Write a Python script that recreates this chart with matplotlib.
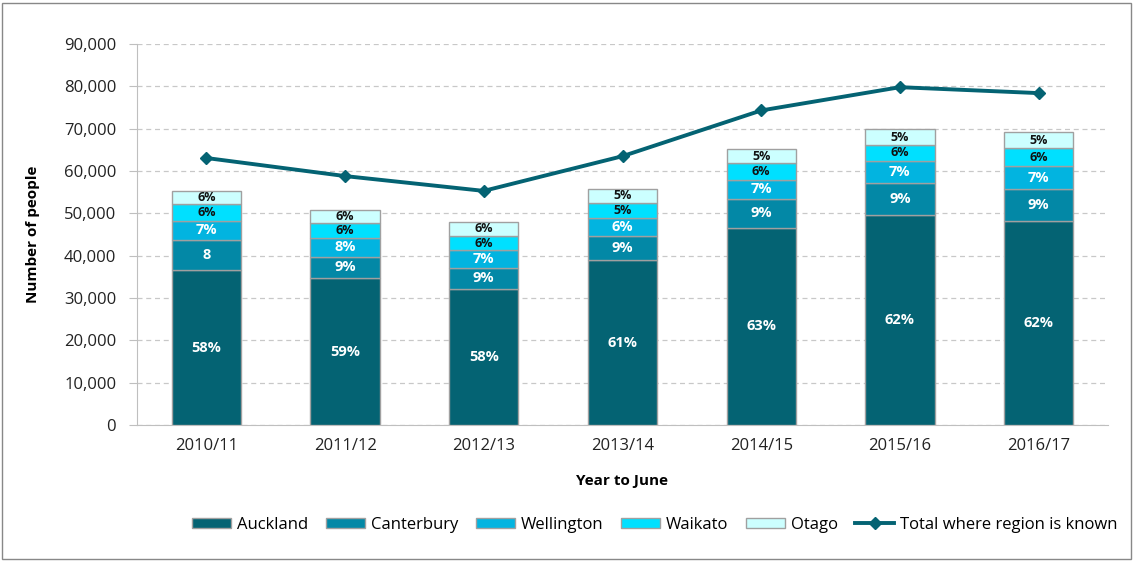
import matplotlib
matplotlib.use("Agg")
import matplotlib.pyplot as plt
import numpy as np
from matplotlib.ticker import FuncFormatter, MultipleLocator
from matplotlib.patches import Rectangle

plt.rcParams['font.family'] = ['Open Sans', 'DejaVu Sans']

years = ["2010/11", "2011/12", "2012/13", "2013/14", "2014/15", "2015/16", "2016/17"]
auckland = [36600, 34650, 32060, 38900, 46620, 49690, 48270]
canterbury = [7100, 5110, 5100, 5820, 6770, 7480, 7480]
wellington = [4560, 4340, 4110, 4260, 4490, 5200, 5360]
waikato = [3880, 3700, 3380, 3470, 3940, 3780, 4250]
otago = [3210, 2990, 3380, 3370, 3310, 3700, 3780]
total_known = [63070, 58800, 55300, 63500, 74300, 79800, 78400]

lbl_auckland = ["58%", "59%", "58%", "61%", "63%", "62%", "62%"]
lbl_canterbury = ["8", "9%", "9%", "9%", "9%", "9%", "9%"]
lbl_wellington = ["7%", "8%", "7%", "6%", "7%", "7%", "7%"]
lbl_waikato = ["6%", "6%", "6%", "5%", "6%", "6%", "6%"]
lbl_otago = ["6%", "6%", "6%", "5%", "5%", "5%", "5%"]

series = [
    ("Auckland", auckland, lbl_auckland, "#046373", "white", 10.5),
    ("Canterbury", canterbury, lbl_canterbury, "#0388A6", "white", 10.5),
    ("Wellington", wellington, lbl_wellington, "#02B4E0", "white", 10.5),
    ("Waikato", waikato, lbl_waikato, "#00E0FF", "#111111", 9),
    ("Otago", otago, lbl_otago, "#CCFFFF", "#111111", 9),
]

fig = plt.figure(figsize=(11.34, 5.61), dpi=100)
ax = fig.add_axes([137/1134, 1-425/561, (1108-137)/1134, (425-44)/561])

x = np.arange(len(years))
bottom = np.zeros(len(years))
handles = []
for name, vals, labels, color, tcol, fs in series:
    vals = np.array(vals, dtype=float)
    bars = ax.bar(x, vals, 0.5, bottom=bottom, color=color, edgecolor="#A0A0A0",
                  linewidth=1.0, label=name, zorder=3)
    for i, b in enumerate(bars):
        ax.text(x[i], bottom[i] + vals[i] / 2, labels[i], ha="center", va="center",
                color=tcol, fontsize=fs, fontweight="bold", zorder=5)
    bottom += vals
    handles.append(bars)

line, = ax.plot(x, total_known, color="#046373", linewidth=2.8, marker="D",
                markersize=6, label="Total where region is known", zorder=6)

ax.set_xlim(-0.5, len(years) - 0.5)
ax.set_ylim(0, 90000)
ax.yaxis.set_major_locator(MultipleLocator(10000))
ax.yaxis.set_major_formatter(FuncFormatter(lambda v, p: f"{int(v):,}"))
ax.set_xticks(x)
ax.set_xticklabels(years)
ax.tick_params(axis="x", length=0, pad=9, labelsize=12, colors="#222222")
ax.tick_params(axis="y", length=6, color="#BFBFBF", pad=9, labelsize=12, labelcolor="#222222")
ax.grid(axis="y", linestyle=(0, (4, 3)), color="#C8C8C8", linewidth=0.9, zorder=0)
ax.set_axisbelow(True)
for s in ["top", "right"]:
    ax.spines[s].set_visible(False)
ax.spines["left"].set_color("#BFBFBF")
ax.spines["bottom"].set_color("#BFBFBF")
ax.spines["left"].set_zorder(7)

ax.set_ylabel("Number of people", fontsize=11, fontweight="bold", labelpad=17)
ax.set_xlabel("Year to June", fontsize=11, fontweight="bold", labelpad=15)

fig.legend(handles=handles + [line], loc="center", bbox_to_anchor=(655/1134, 1-525/561),
           ncol=6, frameon=False, fontsize=12, handlelength=2.35, handleheight=0.6,
           columnspacing=1.05, handletextpad=0.35)

fig.patches.append(Rectangle((2/1134, 2/561), 1129/1134, 556/561, transform=fig.transFigure,
                             fill=False, edgecolor="#888888", linewidth=1.0))

fig.savefig("out.png", dpi=100)
